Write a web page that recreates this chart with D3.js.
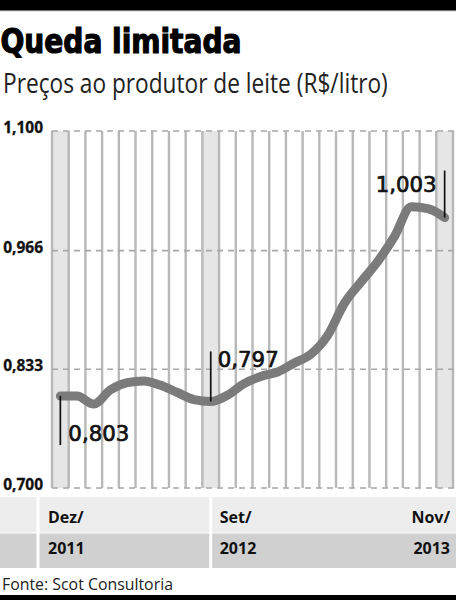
<!DOCTYPE html>
<html>
<head>
<meta charset="utf-8">
<script src="https://cdn.jsdelivr.net/npm/d3@7"></script>
<style>
  html, body { margin: 0; padding: 0; background: #fff; }
  svg { display: block; }
</style>
</head>
<body>
<svg id="chart" width="456" height="600"></svg>
<script>
// ---- Data ----
const months = ["Dez/2011","Jan/2012","Fev/2012","Mar/2012","Abr/2012","Mai/2012","Jun/2012","Jul/2012","Ago/2012","Set/2012","Out/2012","Nov/2012",
                "Dez/2012","Jan/2013","Fev/2013","Mar/2013","Abr/2013","Mai/2013","Jun/2013","Jul/2013","Ago/2013","Set/2013","Out/2013","Nov/2013"];
const prices = [0.803,0.803,0.794,0.810,0.818,0.820,0.815,0.807,0.799,0.797,0.804,0.817,
                0.825,0.830,0.840,0.850,0.871,0.907,0.931,0.954,0.982,1.015,1.013,1.003];
const yTicks = [0.700, 0.833, 0.966, 1.100];
const highlighted = ["Dez/2011","Set/2012","Nov/2013"];
const labelMonths = ["Dez/","Set/","Nov/"];
const labelYears = ["2011","2012","2013"];
const annotations = [
  {month: "Dez/2011", text: "0,803"},
  {month: "Set/2012", text: "0,797"},
  {month: "Nov/2013", text: "1,003"}
];
const titleText = "Queda limitada";
const subtitleText = "Preços ao produtor de leite (R$/litro)";
const sourceText = "Fonte: Scot Consultoria";

// ---- Layout ----
const svg = d3.select("#chart");
const W = 456, H = 600;
const x = d3.scaleBand().domain(months).range([52, 453]).padding(0);
const y = d3.scaleLinear().domain([0.7, 1.1]).range([488, 131]);
const bw = x.bandwidth();
const cx = m => x(m) + bw / 2;
const fmt = v => d3.format(".3f")(v).replace(".", ",");

// text fitted horizontally to a target width via a scale transform
function fitText(sel, tx, ty, targetW, anchor) {
  const w = sel.node().getComputedTextLength();
  const s = targetW / w;
  sel.attr("x", 0).attr("y", 0).attr("text-anchor", anchor || "start")
     .attr("transform", `translate(${tx},${ty}) scale(${s},1)`);
  return sel;
}

// top & bottom bars
svg.append("rect").attr("x", 0).attr("y", 0).attr("width", W).attr("height", 10).attr("fill", "#000");
svg.append("rect").attr("x", 0).attr("y", 10).attr("width", W).attr("height", 1.2).attr("fill", "#777");
svg.append("rect").attr("x", 0).attr("y", 595).attr("width", W).attr("height", 5).attr("fill", "#000");

// title & subtitle
fitText(svg.append("text")
  .attr("font-family", "'DejaVu Sans Condensed', 'DejaVu Sans', sans-serif")
  .attr("font-weight", "bold").attr("font-size", 33).attr("fill", "#000")
  .attr("stroke", "#000").attr("stroke-width", 1.1)
  .text(titleText), 0.5, 53, 241);
fitText(svg.append("text")
  .attr("font-family", "'Open Sans', sans-serif")
  .attr("font-weight", 400).attr("font-size", 27).attr("fill", "#222")
  .text(subtitleText), 3, 93, 385);

// highlighted bands
svg.append("g").selectAll("rect").data(highlighted).join("rect")
  .attr("x", d => x(d)).attr("y", y(1.1))
  .attr("width", bw).attr("height", y(0.7) - y(1.1))
  .attr("fill", "#e6e6e6");

// vertical lines at band boundaries
const bounds = months.map(m => x(m)).concat([x.range()[1]]);
svg.append("g").selectAll("line").data(bounds).join("line")
  .attr("x1", d => d).attr("x2", d => d)
  .attr("y1", y(1.1)).attr("y2", y(0.7))
  .attr("stroke", "#b8b8b8").attr("stroke-width", 2.4);

// horizontal dashed gridlines
svg.append("g").selectAll("line").data(yTicks).join("line")
  .attr("x1", 52).attr("x2", W)
  .attr("y1", d => y(d)).attr("y2", d => y(d))
  .attr("stroke", "#a8a8a8").attr("stroke-width", 1.6)
  .attr("stroke-dasharray", "6,5");

// y axis labels
const yAxis = d3.axisLeft(y).tickValues(yTicks).tickSize(0).tickPadding(0)
  .tickFormat(fmt);
const ga = svg.append("g").attr("transform", "translate(43,0)").call(yAxis);
ga.select(".domain").remove();
ga.selectAll("text")
  .attr("font-family", "'Open Sans', sans-serif").attr("font-weight", "bold")
  .attr("font-size", 15.5).attr("fill", "#111")
  .attr("stroke", "#111").attr("stroke-width", 0.3)
  .attr("dy", "0.1em");

// data line
const line = d3.line()
  .x((d, i) => cx(months[i]))
  .y(d => y(d))
  .curve(d3.curveMonotoneX);
svg.append("path").datum(prices)
  .attr("d", line)
  .attr("fill", "none").attr("stroke", "#7b7b7b")
  .attr("stroke-width", 9)
  .attr("stroke-linecap", "round").attr("stroke-linejoin", "round");

// annotations
const annFont = "'DejaVu Sans', sans-serif";
annotations.forEach((a, k) => {
  const i = months.indexOf(a.month);
  const px = cx(a.month), py = y(prices[i]);
  let y1, y2, tx, ty, anchor;
  if (k === 0) { y1 = py; y2 = py + 49; tx = px + 8; ty = py + 45; anchor = "start"; }
  else if (k === 1) { y1 = py - 50; y2 = py; tx = px + 7; ty = py - 34; anchor = "start"; }
  else { y1 = py - 47; y2 = py; tx = px - 8; ty = py - 26; anchor = "end"; }
  svg.append("line").attr("x1", px).attr("x2", px).attr("y1", y1).attr("y2", y2)
    .attr("stroke", "#111").attr("stroke-width", 1.7);
  fitText(svg.append("text")
    .attr("font-family", annFont).attr("font-size", 21).attr("fill", "#111")
    .attr("stroke", "#111").attr("stroke-width", 0.7)
    .text(a.text), tx, ty, 61, anchor);
});

// bottom label rows
const rowTop = 497, rowMid = 532.5, rowBot = 568;
svg.append("rect").attr("x", 0).attr("y", rowTop).attr("width", W).attr("height", rowMid - rowTop).attr("fill", "#ededed");
svg.append("rect").attr("x", 0).attr("y", rowMid + 1).attr("width", W).attr("height", rowBot - rowMid - 1).attr("fill", "#d0d0d0");
const seps = [x(months[0]) - 14, cx(highlighted[1])];
svg.append("g").selectAll("rect").data(seps).join("rect")
  .attr("x", d => d - 1.5).attr("y", rowTop).attr("width", 3).attr("height", rowBot - rowTop)
  .attr("fill", "#fff");
const labelX = [x(months[0]) - 4, cx(highlighted[1]) + 9, W - 6];
const anchors = ["start", "start", "end"];
const rowFont = "'Open Sans', sans-serif";
svg.append("g").selectAll("text").data(labelMonths).join("text")
  .attr("x", (d, i) => labelX[i]).attr("y", 523)
  .attr("text-anchor", (d, i) => anchors[i])
  .attr("font-family", rowFont).attr("font-weight", "bold").attr("font-size", 16).attr("fill", "#111")
  .text(d => d);
svg.append("g").selectAll("text").data(labelYears).join("text")
  .attr("x", (d, i) => labelX[i]).attr("y", 554)
  .attr("text-anchor", (d, i) => anchors[i])
  .attr("font-family", rowFont).attr("font-weight", "bold").attr("font-size", 16).attr("fill", "#111")
  .text(d => d);

// source
fitText(svg.append("text")
  .attr("font-family", "'Open Sans', sans-serif").attr("font-size", 17).attr("fill", "#222")
  .text(sourceText), 2, 590, 171);
</script>
</body>
</html>
